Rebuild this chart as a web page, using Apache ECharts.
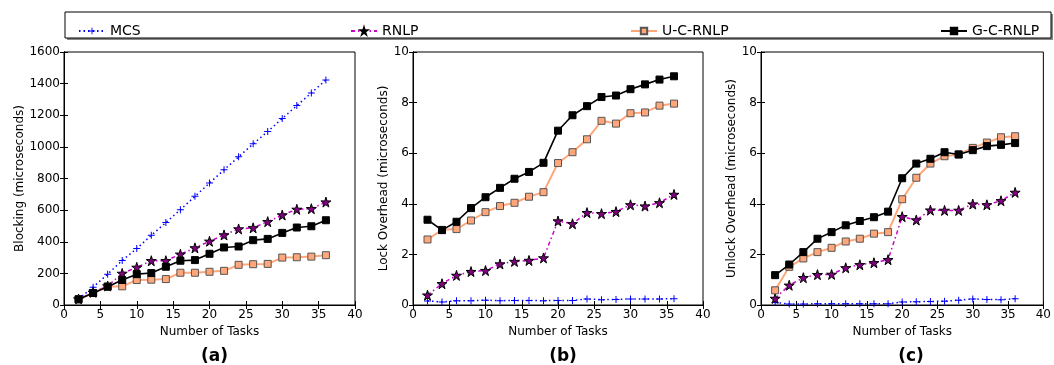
<!DOCTYPE html>
<html>
<head>
<meta charset="utf-8">
<script src="https://cdn.jsdelivr.net/npm/echarts@6/dist/echarts.min.js"></script>
<style>
html,body{margin:0;padding:0;background:#fff;}
#chart{width:1054px;height:365px;}
</style>
</head>
<body>
<div id="chart"></div>
<script>
const tasks = [2,4,6,8,10,12,14,16,18,20,22,24,26,28,30,32,34,36];
const seriesNames = ['MCS','RNLP','U-C-RNLP','G-C-RNLP'];
const panelTitles = ['(a)','(b)','(c)'];
const yAxisNames = ['Blocking (microseconds)','Lock Overhead (microseconds)','Unlock Overhead (microseconds)'];
const xAxisName = 'Number of Tasks';

// (a) Blocking
const blockMCS  = [38,113,195,282,357,441,521,603,687,771,855,937,1019,1097,1179,1261,1341,1423];
const blockRNLP = [38,80,120,200,238,280,280,321,361,403,443,481,488,527,569,605,609,651];
const blockUC   = [36,76,116,118,158,160,164,204,204,210,216,254,258,260,300,302,306,315];
const blockGC   = [36,76,116,158,195,202,242,280,284,324,364,370,410,418,456,490,498,536];

// (b) Lock overhead
const lockMCS  = [0.16,0.12,0.17,0.17,0.19,0.17,0.18,0.18,0.17,0.18,0.18,0.24,0.21,0.22,0.24,0.24,0.24,0.25];
const lockRNLP = [0.39,0.84,1.17,1.32,1.36,1.62,1.72,1.76,1.86,3.32,3.21,3.65,3.61,3.69,3.96,3.91,4.04,4.37];
const lockUC   = [2.59,2.97,3.0,3.34,3.67,3.91,4.04,4.28,4.46,5.61,6.04,6.55,7.28,7.17,7.58,7.61,7.88,7.96];
const lockGC   = [3.37,2.96,3.29,3.83,4.26,4.63,4.99,5.26,5.62,6.89,7.50,7.86,8.22,8.28,8.53,8.72,8.91,9.04];

// (c) Unlock overhead
const unlockMCS  = [0.10,0.04,0.04,0.05,0.05,0.05,0.05,0.05,0.05,0.12,0.13,0.14,0.15,0.19,0.24,0.22,0.21,0.25];
const unlockRNLP = [0.26,0.78,1.08,1.20,1.21,1.47,1.59,1.67,1.79,3.49,3.36,3.75,3.74,3.74,3.99,3.96,4.12,4.45];
const unlockUC   = [0.58,1.51,1.84,2.09,2.26,2.51,2.62,2.82,2.88,4.18,5.03,5.59,5.88,5.95,6.21,6.42,6.63,6.67];
const unlockGC   = [1.18,1.60,2.09,2.62,2.88,3.15,3.32,3.47,3.69,5.01,5.59,5.78,6.04,5.95,6.12,6.28,6.33,6.40];

const xTicks = {min:0, max:40, interval:5};
const yTicks = [{min:0,max:1600,interval:200},{min:0,max:10,interval:2},{min:0,max:10,interval:2}];

const panelData = [
  [blockMCS, blockRNLP, blockUC, blockGC],
  [lockMCS, lockRNLP, lockUC, lockGC],
  [unlockMCS, unlockRNLP, unlockUC, unlockGC]
];

const FONT = 'DejaVu Sans';
const grids = [
  {left:64, top:52, width:291, height:253, nameGap:37},
  {left:413, top:52, width:290, height:253, nameGap:20},
  {left:761, top:52, width:290, height:253, nameGap:21}
];

const plusPath = 'path://M0,3 H7 V4 H0 Z M3,0 H4 V7 H3 Z';
const starPath = 'path://M50,0 L61,35 L98,35 L68,57 L79,91 L50,70 L21,91 L32,57 L2,35 L39,35 Z';

const styles = [
  {symbol:plusPath, symbolSize:7, itemStyle:{color:'#0000ff'}, lineStyle:{color:'#0000ff', width:1.5, type:[1.5,3]}},
  {symbol:starPath, symbolSize:10, itemStyle:{color:'#800080', borderColor:'#000', borderWidth:1}, lineStyle:{color:'#cc00cc', width:1.5, type:[4,3,1.5,3]}},
  {symbol:'rect', symbolSize:7, itemStyle:{color:'#ffa77a', borderColor:'#555', borderWidth:1}, lineStyle:{color:'#ffa77a', width:2, type:'solid'}},
  {symbol:'rect', symbolSize:7, itemStyle:{color:'#000', borderColor:'#000', borderWidth:1}, lineStyle:{color:'#000', width:1.6, type:'solid'}}
];

const gridOpts = [], xAxes = [], yAxes = [], series = [], titles = [];
const axisLine = {show:true, lineStyle:{color:'#000', width:1}};
const tick = {show:true, inside:true, length:4, lineStyle:{color:'#000', width:1}};
const plain = v => String(v);
grids.forEach((g, i) => {
  gridOpts.push({left:g.left, top:g.top, width:g.width, height:g.height, show:true, borderColor:'#000', borderWidth:1, containLabel:false});
  xAxes.push({type:'value', gridIndex:i, position:'bottom', min:xTicks.min, max:xTicks.max, interval:xTicks.interval,
    name:xAxisName, nameLocation:'middle', nameGap:20, nameTextStyle:{fontFamily:FONT, fontSize:12, color:'#000'},
    axisLine:axisLine, axisTick:tick, splitLine:{show:false},
    axisLabel:{fontFamily:FONT, fontSize:12, color:'#000', margin:4, formatter:plain}});
  xAxes.push({type:'value', gridIndex:i, position:'top', min:xTicks.min, max:xTicks.max, interval:xTicks.interval,
    axisLine:axisLine, axisTick:tick, splitLine:{show:false}, axisLabel:{show:false}});
  yAxes.push({type:'value', gridIndex:i, position:'left', min:yTicks[i].min, max:yTicks[i].max, interval:yTicks[i].interval,
    name:yAxisNames[i], nameLocation:'middle', nameGap:g.nameGap, nameRotate:90,
    nameTextStyle:{fontFamily:FONT, fontSize:12, color:'#000'},
    axisLine:axisLine, axisTick:tick, splitLine:{show:false},
    axisLabel:{fontFamily:FONT, fontSize:12, color:'#000', margin:4, formatter:plain}});
  yAxes.push({type:'value', gridIndex:i, position:'right', min:yTicks[i].min, max:yTicks[i].max, interval:yTicks[i].interval,
    axisLine:axisLine, axisTick:tick, splitLine:{show:false}, axisLabel:{show:false}});

  seriesNames.forEach((name, k) => {
    const st = styles[k];
    series.push({
      type:'line', name:name, xAxisIndex:i*2, yAxisIndex:i*2,
      data: tasks.map((t, j) => [t, panelData[i][k][j]]),
      symbol:st.symbol, symbolSize:st.symbolSize, showAllSymbol:true,
      itemStyle:st.itemStyle, lineStyle:st.lineStyle,
      animation:false, z:2+k, emphasis:{disabled:true}
    });
  });

  titles.push({text:panelTitles[i], left:g.left + g.width/2, top:343, textAlign:'center',
    textStyle:{fontFamily:FONT, fontSize:17, fontWeight:'bold', color:'#000'}});
});

const legendLefts = [73, 345, 625, 935];
const legends = seriesNames.map((name, k) => ({
  data:[name], left:legendLefts[k], top:19, itemWidth:26, itemHeight:8, itemGap:12,
  textStyle:{fontFamily:FONT, fontSize:14, color:'#000'}, selectedMode:false
}));

const chart = echarts.init(document.getElementById('chart'), null, {renderer:'canvas'});
chart.setOption({
  backgroundColor:'#fff',
  animation:false,
  title:titles,
  legend:legends,
  grid:gridOpts,
  xAxis:xAxes,
  yAxis:yAxes,
  series:series,
  graphic:[
    {type:'rect', shape:{x:67, y:14, width:986, height:26}, style:{fill:'#888'}, z:-2, silent:true},
    {type:'rect', shape:{x:65, y:12, width:986, height:26}, style:{fill:'#fff', stroke:'#000', lineWidth:1}, z:-1, silent:true}
  ]
});
</script>
</body>
</html>
